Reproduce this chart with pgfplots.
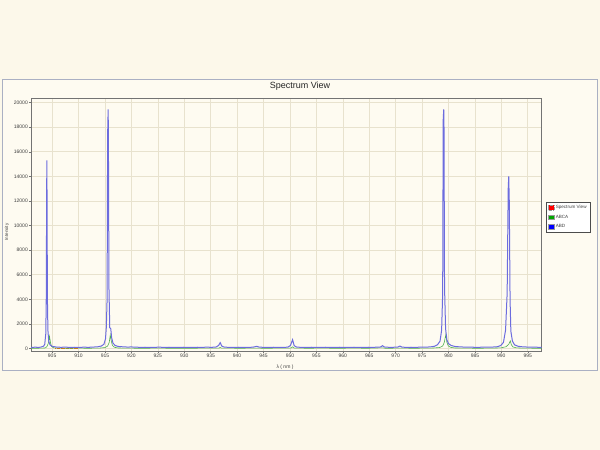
\documentclass[border=0pt]{standalone}
\usepackage{pgfplots}
\pgfplotsset{compat=1.18}
\usepackage{fontspec}
\setmainfont{Liberation Sans}
\definecolor{bgc}{RGB}{252,248,234}
\definecolor{panelc}{RGB}{254,251,241}
\definecolor{panelb}{RGB}{170,176,195}
\definecolor{gridc}{RGB}{232,226,206}
\definecolor{blueln}{RGB}{108,108,222}
\definecolor{greenln}{RGB}{80,178,80}
\begin{document}
\begin{tikzpicture}[x=1pt,y=1pt]
\fill[bgc] (0,0) rectangle (600,450);
\filldraw[fill=panelc, draw=panelb, line width=0.8pt] (2,80) rectangle (597,371);
\node[font=\fontsize{9}{10}\selectfont, text=black!85] at (300,364) {Spectrum View};
\node[rotate=90, font=\fontsize{4.5}{5}\selectfont, text=black!75] at (7,218) {Intensity};
\node[font=\fontsize{5}{6}\selectfont, text=black!75] at (285,83) {λ ( nm )};
\coordinate (AO) at (31,99);
\begin{axis}[
  at={(AO)}, anchor=south west,
  scale only axis, width=510.5pt, height=252.7pt,
  xmin=901, xmax=997.6, ymin=-200, ymax=20350,
  axis background/.style={fill=panelc},
  xtick={905,910,...,995},
  ytick={0,2000,...,20000},
  grid=major,
  major grid style={gridc, line width=0.6pt},
  axis line style={black!55, line width=0.8pt},
  tick align=outside, major tick length=2pt,
  tick style={black!55, line width=0.4pt},
  xtick pos=bottom, ytick pos=left,
  /pgf/number format/assume math mode=true,
  /pgf/number format/1000 sep={},
  ticklabel style={font=\fontsize{5}{6}\selectfont, text=black!75},
  xticklabel style={inner sep=1pt},
  yticklabel style={inner sep=1pt},
  scaled y ticks=false,
  legend style={at={(1.009,0.53)}, anchor=west, draw=black!70, fill=white,
    font=\fontsize{4.6}{5.5}\selectfont, inner sep=1.2pt, row sep=0.8pt,
    text=black!75, line width=0.5pt},
  legend cell align=left,
]
\addplot[orange!80!red, line width=0.3pt, densely dotted, legend image code/.code={\filldraw[fill=red, draw=black!40, line width=0.2pt] (0pt,-2.2pt) rectangle (6pt,2.2pt);}]
  coordinates {(905.6,0) (907.0,0) (908.5,0) (909.8,0)};
\addlegendentry{Spectrum View}
\addplot[greenln, line width=0.6pt, legend image code/.code={\filldraw[fill=green!65!black, draw=black!40, line width=0.2pt] (0pt,-2.2pt) rectangle (6pt,2.2pt);}]
  coordinates {
(901,20) (902,25) (903,30) (903.7,50) (904.0,150) (904.3,450) (904.5,1000) (904.7,450) (904.9,150) (905.3,60) (906,35)
(908,25) (910,30) (912,25) (914,35) (915.0,80) (915.5,200) (915.8,500) (916.0,1100) (916.2,600) (916.4,250) (916.8,100) (917.5,45)
(919,30) (922,25) (925,30) (928,25) (931,25) (934,30) (936.6,40) (936.8,90) (937.0,40) (940,25) (943,30) (946,25)
(950.2,40) (950.5,140) (950.8,40) (953,25) (956,30) (959,25) (962,30) (965,25) (967.6,60) (968,25) (971,30) (974,25)
(977,40) (978.3,80) (978.9,200) (979.2,500) (979.5,1140) (979.7,500) (979.95,220) (980.4,100) (981.2,45) (983,30)
(986,25) (988.5,35) (990.0,60) (990.9,150) (991.4,350) (991.7,620) (991.9,300) (992.2,130) (992.8,60) (994,30) (997.6,25)
  };
\addlegendentry{ABCA}
\addplot[blueln, line width=1pt, legend image code/.code={\filldraw[fill=blue, draw=black!40, line width=0.2pt] (0pt,-2.2pt) rectangle (6pt,2.2pt);}]
  coordinates {
(901.0,90) (901.8,110) (902.5,95) (903.0,130) (903.4,200) (903.6,350) (903.8,1200) (903.9,4500) (903.95,11600)
(904.0,15300) (904.05,11000) (904.1,4200) (904.2,1500) (904.35,600) (904.6,300) (905.0,180) (905.8,120) (906.7,100)
(907.5,115) (908.4,90) (909.3,105) (910.2,95) (911.0,110) (911.9,100) (912.8,120) (913.6,140) (914.3,200) (914.8,350)
(915.1,800) (915.25,1700) (915.4,4000) (915.5,17400) (915.6,19450) (915.65,17000) (915.75,5000) (915.9,1700)
(916.1,1600) (916.25,900) (916.5,450) (916.9,250) (917.5,170) (918.4,140) (919.3,120) (920.0,130) (920.8,110)
(921.7,100) (922.6,105) (923.5,95) (924.4,100) (925.3,110) (926.2,95) (927.1,105) (928.0,100) (928.9,90) (929.8,105)
(930.7,100) (931.6,95) (932.5,105) (933.4,100) (934.3,110) (935.2,100) (936.0,120) (936.5,250) (936.8,480) (937.1,200)
(937.6,110) (938.5,100) (939.4,95) (940.3,105) (941.2,100) (942.1,95) (943.0,110) (943.7,180) (944.2,110) (945.1,100)
(946.0,95) (946.9,105) (947.8,100) (948.7,95) (949.6,110) (950.1,250) (950.5,720) (950.8,230) (951.3,110) (952.2,100)
(953.1,95) (954.0,105) (954.9,100) (955.8,95) (956.7,105) (957.6,100) (958.5,95) (959.4,105) (960.3,100) (961.2,95)
(962.1,105) (963.0,100) (963.9,95) (964.8,105) (965.7,100) (966.6,110) (967.2,130) (967.5,230) (967.9,120) (968.8,100)
(969.7,105) (970.4,110) (970.8,200) (971.2,110) (972.0,100) (972.9,105) (973.8,100) (974.7,110) (975.6,115) (976.5,130)
(977.3,180) (977.9,300) (978.4,600) (978.7,1500) (978.9,4500) (979.0,18600) (979.1,19450) (979.15,18000) (979.25,5000)
(979.45,1600) (979.7,700) (980.0,400) (980.5,250) (981.2,170) (982.0,140) (982.9,120) (983.8,110) (984.7,105) (985.6,100)
(986.5,110) (987.4,105) (988.3,120) (989.3,150) (989.9,250) (990.4,500) (990.8,1500) (991.1,4500) (991.3,13000)
(991.4,14000) (991.5,12000) (991.65,4000) (991.8,1400) (992.1,600) (992.5,300) (993.2,180) (994.0,140) (995.0,120)
(996.0,110) (997.6,100)
  };
\addlegendentry{ABD}
\end{axis}
\end{tikzpicture}
\end{document}
